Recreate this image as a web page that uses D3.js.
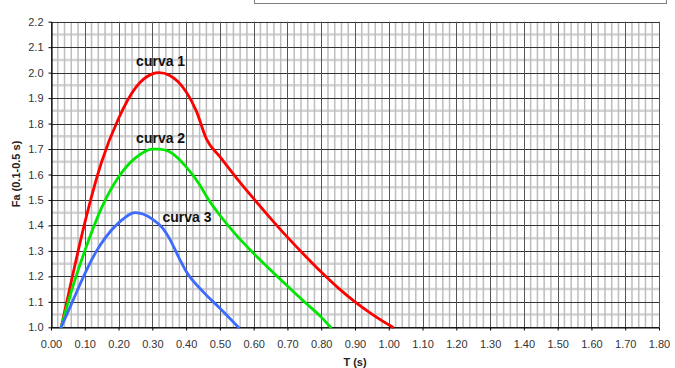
<!DOCTYPE html>
<html>
<head>
<meta charset="utf-8">
<script src="https://cdn.jsdelivr.net/npm/d3@7"></script>
<style>
  html, body { margin: 0; padding: 0; background: #fff; }
  svg { display: block; }
</style>
</head>
<body>
<svg id="chart" width="675" height="368"></svg>
<script>
// ---- data ----
const xTicks = [0.0,0.1,0.2,0.3,0.4,0.5,0.6,0.7,0.8,0.9,1.0,1.1,1.2,1.3,1.4,1.5,1.6,1.7,1.8];
const yTicks = [1.0,1.1,1.2,1.3,1.4,1.5,1.6,1.7,1.8,1.9,2.0,2.1,2.2];

const curva1T  = [0.03,0.06,0.10,0.15,0.20,0.25,0.30,0.32,0.35,0.40,0.43,0.46,0.50,0.55,0.60,0.65,0.70,0.75,0.80,0.85,0.90,0.95,1.012];
const curva1Fa = [1.00,1.18,1.41,1.65,1.82,1.94,1.995,2.00,1.99,1.925,1.85,1.74,1.67,1.585,1.505,1.428,1.354,1.284,1.217,1.155,1.10,1.052,1.00];

const curva2T  = [0.03,0.06,0.10,0.15,0.20,0.25,0.30,0.32,0.35,0.40,0.44,0.46,0.50,0.55,0.60,0.65,0.70,0.75,0.80,0.828];
const curva2Fa = [1.00,1.14,1.30,1.47,1.59,1.665,1.70,1.70,1.69,1.63,1.56,1.515,1.44,1.36,1.29,1.225,1.162,1.10,1.04,1.00];

const curva3T  = [0.03,0.06,0.10,0.135,0.16,0.20,0.25,0.30,0.33,0.35,0.38,0.40,0.45,0.50,0.555];
const curva3Fa = [1.00,1.09,1.21,1.30,1.35,1.41,1.45,1.425,1.39,1.35,1.27,1.22,1.14,1.075,1.00];

const seriesNames  = ["curva 1","curva 2","curva 3"];
const seriesColors = ["#ff0000","#00e600","#3d6bff"];
// label anchor points in data units (T, Fa)
const labelT  = [0.252,0.252,0.330];
const labelFa = [2.026,1.722,1.415];

// ---- layout ----
const svg = d3.select("#chart");
const L = 51, R = 659, T = 21.7, B = 327.3;
const x = d3.scaleLinear().domain([0,1.8]).range([L,R]);
const y = d3.scaleLinear().domain([1.0,2.2]).range([B,T]);

// top decorative box
svg.append("rect").attr("x",254.5).attr("y",-5).attr("width",412).attr("height",8.5)
  .attr("fill","none").attr("stroke","#7f7f7f").attr("stroke-width",1);

const grid = svg.append("g");
// minor horizontal (every 0.05 between majors)
const yMinor = d3.range(1.05, 2.2, 0.1);
grid.selectAll(".hm").data(yMinor).enter().append("line")
  .attr("x1",L).attr("x2",R).attr("y1",d=>y(d)).attr("y2",d=>y(d))
  .attr("stroke","#d3d3d3").attr("stroke-width",2.5);
// minor vertical (every 0.02)
const xMinor = d3.range(0, 90).map(i=>i*0.02).filter((d,i)=> i%5!==0);
grid.selectAll(".vm").data(xMinor).enter().append("line")
  .attr("y1",T).attr("y2",B).attr("x1",d=>x(d)).attr("x2",d=>x(d))
  .attr("stroke","#bdbdbd").attr("stroke-width",1.5);
// major horizontal
grid.selectAll(".hM").data(yTicks).enter().append("line")
  .attr("x1",L).attr("x2",R).attr("y1",d=>Math.round(y(d))+0.5).attr("y2",d=>Math.round(y(d))+0.5)
  .attr("stroke","#333").attr("stroke-width",1);
// major vertical
grid.selectAll(".vM").data(xTicks).enter().append("line")
  .attr("y1",T).attr("y2",B).attr("x1",d=>Math.round(x(d))+0.5).attr("x2",d=>Math.round(x(d))+0.5)
  .attr("stroke","#555").attr("stroke-width",1);

// axes
const yAxis = svg.append("g").attr("transform",`translate(${L+0.5},0)`)
  .call(d3.axisLeft(y).tickValues(yTicks).tickFormat(d3.format(".1f")).tickSize(3).tickSizeOuter(0));
const xAxis = svg.append("g").attr("transform",`translate(0,${Math.round(B)+0.5})`)
  .call(d3.axisBottom(x).tickValues(xTicks).tickFormat(d3.format(".2f")).tickSize(3).tickSizeOuter(0).tickPadding(10));
[yAxis,xAxis].forEach(a=>{
  a.selectAll("path").attr("stroke","#000").attr("stroke-width",1.2);
  a.selectAll("line").attr("stroke","#000");
  a.selectAll("text").attr("font-family","Arial, 'Liberation Sans', sans-serif")
    .attr("font-size","11px").attr("fill","#333");
});
yAxis.selectAll("text").attr("x",-8);

// curves
const series = [
  curva1T.map((t,i)=>[t,curva1Fa[i]]),
  curva2T.map((t,i)=>[t,curva2Fa[i]]),
  curva3T.map((t,i)=>[t,curva3Fa[i]])
];
const line = d3.line().x(d=>x(d[0])).y(d=>y(d[1])).curve(d3.curveMonotoneX);
svg.selectAll(".curve").data(series).enter().append("path")
  .attr("d",line).attr("fill","none")
  .attr("stroke",(d,i)=>seriesColors[i]).attr("stroke-width",2.8)
  .attr("stroke-linejoin","round").attr("stroke-linecap","round");

// labels
svg.selectAll(".lbl").data(seriesNames).enter().append("text")
  .attr("x",(d,i)=>x(labelT[i])).attr("y",(d,i)=>y(labelFa[i]))
  .attr("font-family","Arial, 'Liberation Sans', sans-serif")
  .attr("font-size","14px").attr("font-weight","bold").attr("fill","#111")
  .text(d=>d);

// axis titles
svg.append("text").attr("x",(L+R)/2).attr("y",366).attr("text-anchor","middle")
  .attr("font-family","Arial, 'Liberation Sans', sans-serif")
  .attr("font-size","11px").attr("font-weight","bold").attr("fill","#222").text("T (s)");
svg.append("text").attr("transform",`translate(20,174) rotate(-90)`).attr("text-anchor","middle")
  .attr("font-family","Arial, 'Liberation Sans', sans-serif")
  .attr("font-size","11px").attr("font-weight","bold").attr("fill","#222").text("Fa (0.1-0.5 s)");
</script>
</body>
</html>
